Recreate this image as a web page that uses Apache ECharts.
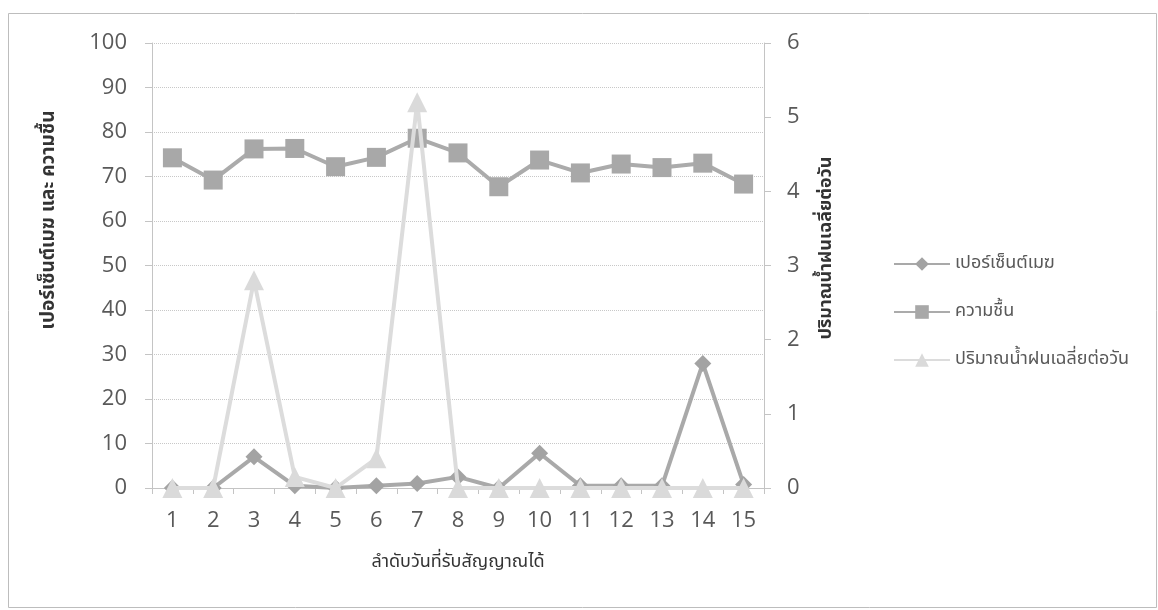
<!DOCTYPE html>
<html>
<head>
<meta charset="utf-8">
<script src="https://cdn.jsdelivr.net/npm/echarts@6/dist/echarts.min.js"></script>
<style>
html,body{margin:0;padding:0;background:#fff;}
#chart{width:1158px;height:610px;}
</style>
</head>
<body>
<div id="chart"></div>
<script>
var categories = ['1','2','3','4','5','6','7','8','9','10','11','12','13','14','15'];
var cloudPercent = [0, 0, 7, 0.5, 0, 0.5, 1, 2.5, 0, 7.8, 0.5, 0.5, 0.5, 28, 0.8];
var humidity = [74.2, 69.2, 76.2, 76.3, 72.2, 74.3, 78.6, 75.3, 67.7, 73.7, 70.8, 72.8, 72, 73, 68.3];
var rainfall = [0, 0, 2.8, 0.15, 0, 0.4, 5.2, 0, 0, 0, 0, 0, 0, 0, 0];
var leftTicks = {min: 0, max: 100, interval: 10};
var rightTicks = {min: 0, max: 6, interval: 1};
var seriesNames = ['เปอร์เซ็นต์เมฆ', 'ความชื้น', 'ปริมาณน้ำฝนเฉลี่ยต่อวัน'];
var leftTitle = 'เปอร์เซ็นต์เมฆ และ ความชื้น';
var rightTitle = 'ปริมาณน้ำฝนเฉลี่ยต่อวัน';
var xTitle = 'ลำดับวันที่รับสัญญาณได้';

var chart = echarts.init(document.getElementById('chart'), null, {renderer: 'canvas'});
var labelFont = '"Open Sans", "Noto Sans", sans-serif';
var thaiFont = 'Tahoma, "Noto Sans Thai", "DejaVu Sans", sans-serif';
chart.setOption({
  animation: false,
  backgroundColor: '#ffffff',
  graphic: [
    {type: 'rect', shape: {x: 8.5, y: 13.5, width: 1148, height: 594}, style: {fill: 'none', stroke: '#bdbdbd', lineWidth: 1}, silent: true},
    {type: 'text', x: 50, y: 220, rotation: Math.PI / 2, style: {text: leftTitle, fill: '#333', font: 'bold 19px ' + thaiFont, align: 'center', verticalAlign: 'middle'}},
    {type: 'text', x: 827, y: 248, rotation: Math.PI / 2, style: {text: rightTitle, fill: '#333', font: 'bold 18px ' + thaiFont, align: 'center', verticalAlign: 'middle'}}
  ],
  grid: {left: 152, right: 394, top: 43, bottom: 122, containLabel: false},
  legend: {
    orient: 'vertical', left: 888, top: 250, itemGap: 30, itemWidth: 56, itemHeight: 17,
    data: seriesNames,
    textStyle: {color: '#595959', fontSize: 18, fontFamily: thaiFont}
  },
  xAxis: {
    type: 'category', data: categories, boundaryGap: true,
    name: xTitle, nameLocation: 'middle', nameGap: 66,
    nameTextStyle: {color: '#333', fontSize: 18, fontFamily: thaiFont},
    axisLine: {lineStyle: {color: '#c4c4c4', width: 1}},
    axisTick: {show: true, length: 6, lineStyle: {color: '#c4c4c4'}},
    axisLabel: {color: '#595959', fontSize: 22, fontFamily: labelFont, margin: 22}
  },
  yAxis: [
    {
      type: 'value', min: leftTicks.min, max: leftTicks.max, interval: leftTicks.interval, position: 'left',
      axisLine: {show: true, lineStyle: {color: '#c4c4c4'}},
      axisTick: {show: true, length: 7, lineStyle: {color: '#c4c4c4'}},
      axisLabel: {color: '#595959', fontSize: 22, fontFamily: labelFont, margin: 25},
      splitLine: {show: true, lineStyle: {color: '#c8c8c8', type: 'dotted', width: 1}}
    },
    {
      type: 'value', min: rightTicks.min, max: rightTicks.max, interval: rightTicks.interval, position: 'right',
      axisLine: {show: true, lineStyle: {color: '#c4c4c4'}},
      axisTick: {show: true, length: 7, lineStyle: {color: '#c4c4c4'}},
      axisLabel: {color: '#595959', fontSize: 22, fontFamily: labelFont, margin: 23},
      splitLine: {show: false}
    }
  ],
  series: [
    {
      name: seriesNames[0], type: 'line', yAxisIndex: 0, data: cloudPercent,
      symbol: 'diamond', symbolSize: 17, z: 2,
      lineStyle: {color: '#a9a9a9', width: 4},
      itemStyle: {color: '#a3a3a3'}
    },
    {
      name: seriesNames[1], type: 'line', yAxisIndex: 0, data: humidity,
      symbol: 'rect', symbolSize: 19, z: 3,
      lineStyle: {color: '#ababab', width: 4},
      itemStyle: {color: '#a8a8a8'}
    },
    {
      name: seriesNames[2], type: 'line', yAxisIndex: 1, data: rainfall,
      symbol: 'triangle', symbolSize: 20, z: 4,
      lineStyle: {color: '#dcdcdc', width: 4},
      itemStyle: {color: '#dadada'}
    }
  ]
});
</script>
</body>
</html>
